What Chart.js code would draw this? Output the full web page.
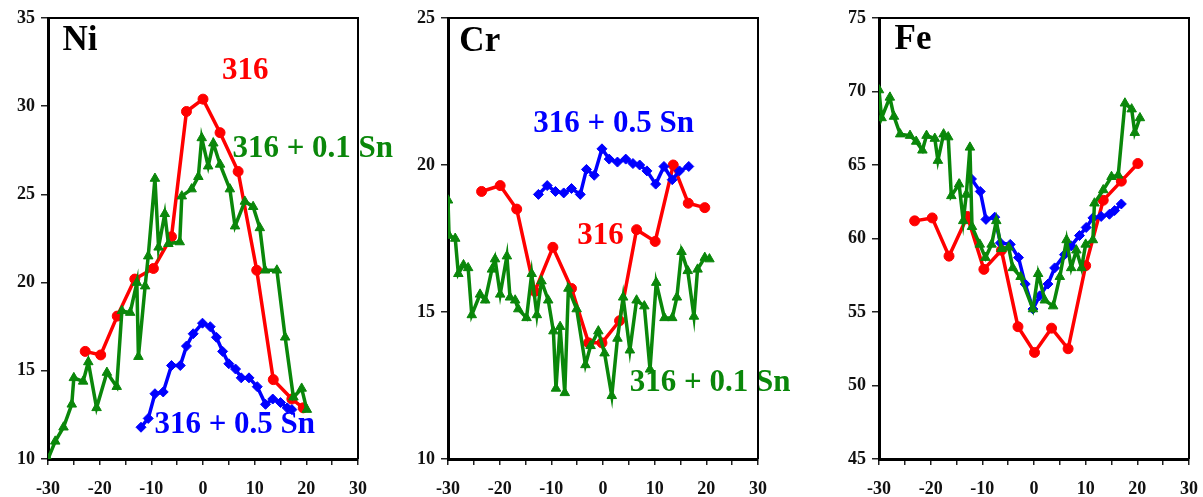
<!DOCTYPE html>
<html>
<head>
<meta charset="utf-8">
<script src="https://cdn.jsdelivr.net/npm/chart.js@4"></script>
<style>
  html, body { margin: 0; padding: 0; background: #fff; }
  #wrap { position: relative; width: 1203px; height: 497px; overflow: hidden; }
  .panel { position: absolute; top: 0; }
</style>
</head>
<body>
<div id="wrap">
  <canvas id="niChart" class="panel" width="400" height="497" style="left:0px"></canvas>
  <canvas id="crChart" class="panel" width="400" height="497" style="left:400px"></canvas>
  <canvas id="feChart" class="panel" width="400" height="497" style="left:831px"></canvas>
</div>
<script>
// shared x axis (distance)
const xTicks = [-30, -20, -10, 0, 10, 20, 30];

// Ni
const niTicks = [10, 15, 20, 25, 30, 35];
const niX316 = [-22.8, -19.8, -16.6, -13.2, -9.6, -6.1, -3.2, 0, 3.3, 6.8, 10.4, 13.6, 17.2, 19.4];
const niY316 = [16.1, 15.9, 18.1, 20.2, 20.8, 22.6, 29.7, 30.4, 28.5, 26.3, 20.7, 14.5, 13.4, 12.9];
const niX01 = [-30, -28.6, -27, -25.4, -25, -23.2, -22.2, -20.6, -18.6, -16.7, -15.7, -14.1, -12.8, -12.5, -11.2, -10.6, -9.3, -8.6, -7.4, -6.7, -4.5, -4.1, -2.2, -0.9, -0.25, 1.0, 2.0, 3.3, 5.2, 6.2, 8.1, 9.7, 11.0, 12.0, 14.3, 15.9, 17.5, 19.1, 20.1];
const niY01 = [10, 11, 11.8, 13.1, 14.6, 14.4, 15.5, 12.9, 14.9, 14.1, 18.4, 18.3, 20.0, 15.8, 19.8, 21.5, 25.9, 22.0, 23.9, 22.2, 22.3, 24.9, 25.3, 26.0, 28.2, 26.6, 27.9, 26.7, 25.3, 23.2, 24.6, 24.3, 23.1, 20.7, 20.7, 16.9, 13.5, 14.0, 12.8];
const niX05 = [-12, -10.6, -9.3, -7.7, -6.1, -4.4, -3.2, -1.9, -0.1, 1.4, 2.6, 3.8, 5.0, 6.3, 7.4, 8.9, 10.5, 12.1, 13.5, 15.0, 16.3, 17.2];
const niY05 = [11.8, 12.3, 13.7, 13.8, 15.3, 15.3, 16.4, 17.1, 17.7, 17.5, 16.9, 16.1, 15.4, 15.1, 14.6, 14.6, 14.1, 13.1, 13.4, 13.2, 12.9, 12.8];

// Cr
const crTicks = [10, 15, 20, 25];
const crX316 = [-23.5, -19.9, -16.7, -13.2, -9.7, -6.1, -2.8, -0.2, 3.2, 6.5, 10.1, 13.6, 16.5, 19.7];
const crY316 = [19.1, 19.3, 18.5, 15.7, 17.2, 15.8, 13.95, 13.95, 14.7, 17.8, 17.4, 20.0, 18.7, 18.55];
const crX01 = [-30, -29.8, -28.6, -28.0, -27.0, -26.1, -25.4, -23.8, -22.8, -21.5, -20.9, -19.9, -18.6, -18.0, -17.0, -16.4, -14.8, -13.8, -12.8, -11.9, -10.6, -9.6, -9.1, -8.3, -7.4, -6.7, -5.1, -3.4, -2.4, -0.9, 0.3, 1.7, 2.8, 3.9, 5.2, 6.5, 8.0, 9.1, 10.3, 11.9, 13.4, 14.3, 15.2, 16.4, 17.6, 18.3, 19.7, 20.6];
const crY01 = [18.8, 17.6, 17.5, 16.3, 16.6, 16.5, 14.9, 15.6, 15.4, 16.45, 16.8, 15.6, 16.9, 15.5, 15.4, 15.1, 14.8, 16.3, 14.9, 16.05, 15.4, 14.35, 12.4, 14.5, 12.25, 15.8, 15.1, 13.2, 13.85, 14.35, 13.6, 12.15, 14.1, 15.5, 13.7, 15.4, 15.2, 13.05, 16.0, 14.8, 14.8, 15.5, 17.05, 16.4, 14.85, 16.45, 16.85, 16.8];
const crX05 = [-12.5, -10.8, -9.2, -7.6, -6.1, -4.4, -3.2, -1.7, -0.2, 1.2, 2.8, 4.4, 5.8, 7.1, 8.5, 10.2, 11.8, 13.4, 14.8, 16.6];
const crY05 = [19.0, 19.3, 19.1, 19.05, 19.2, 19.0, 19.85, 19.65, 20.55, 20.2, 20.1, 20.2, 20.05, 20.0, 19.8, 19.35, 19.95, 19.5, 19.8, 19.95];

// Fe
const feTicks = [45, 50, 55, 60, 65, 70, 75];
const feX316 = [-23.1, -19.7, -16.45, -12.9, -9.7, -6.3, -3.1, 0.1, 3.4, 6.6, 10.0, 13.4, 16.9, 20.1];
const feY316 = [61.2, 61.4, 58.8, 61.5, 57.9, 59.2, 54.0, 52.25, 53.9, 52.5, 58.15, 62.6, 63.9, 65.1];
const feX01 = [-30, -29.5, -27.9, -27.1, -25.9, -24, -22.8, -21.6, -20.8, -19.2, -18.6, -17.5, -16.6, -16.0, -14.5, -13.7, -13.1, -12.4, -12.0, -10.5, -9.4, -8.2, -7.3, -6.3, -4.9, -4.1, -2.6, -0.2, 0.8, 2.1, 3.7, 5.0, 6.3, 7.2, 8.2, 9.2, 10.0, 11.4, 11.7, 13.4, 15.0, 16.3, 17.6, 18.9, 19.5, 20.5];
const feY01 = [70.1, 68.2, 69.6, 68.3, 67.1, 67.0, 66.6, 66.0, 67.0, 66.8, 65.3, 67.1, 66.9, 62.9, 63.7, 61.2, 63.0, 66.2, 60.8, 59.6, 58.7, 59.6, 61.2, 59.3, 59.4, 58.0, 57.4, 55.2, 57.6, 55.8, 55.4, 57.4, 59.9, 58.0, 59.2, 58.0, 59.6, 59.9, 62.4, 63.3, 64.2, 64.3, 69.2, 68.8, 67.2, 68.2];
const feX05 = [-12.1, -10.4, -9.3, -7.6, -6.5, -4.6, -3.0, -1.7, -0.2, 1.1, 2.7, 4.0, 5.9, 7.2, 8.8, 10.1, 11.4, 13.0, 14.6, 15.6, 16.9];
const feY05 = [64.05, 63.2, 61.3, 61.45, 59.7, 59.6, 58.7, 56.9, 55.2, 56.1, 56.9, 58.0, 58.9, 59.5, 60.2, 60.75, 61.4, 61.5, 61.65, 61.9, 62.35];

const RED = '#ff0000';
const GREEN = '#0a870a';
const BLUE = '#0000ff';
const SERIF = '"Liberation Serif", "Times New Roman", serif';

function points(xs, ys) {
    return xs.map((x, i) => ({ x: x, y: ys[i] }));
}

function series(xs, ys, color, style) {
    return {
        data: points(xs, ys),
        borderColor: color,
        backgroundColor: color,
        borderWidth: 3.5,
        pointStyle: style,
        pointRadius: style === 'triangle' ? 5.5 : 5,
        pointBorderWidth: 1,
        tension: 0
    };
}

// draws the panel name and the series labels at data positions
const panelText = {
    id: 'panelText',
    afterDatasetsDraw(chart, args, opts) {
        const ctx = chart.ctx;
        const xs = chart.scales.x, ys = chart.scales.y;
        ctx.save();
        ctx.textBaseline = 'middle';
        ctx.textAlign = 'left';
        (opts.items || []).forEach(t => {
            ctx.font = 'bold ' + t.size + 'px ' + SERIF;
            ctx.fillStyle = t.color;
            ctx.fillText(t.text, xs.getPixelForValue(t.x), ys.getPixelForValue(t.y));
        });
        ctx.restore();
    }
};

// top and right edges of the box
const frame = {
    id: 'frame',
    afterDraw(chart) {
        const a = chart.chartArea, ctx = chart.ctx;
        ctx.save();
        ctx.strokeStyle = '#000';
        ctx.lineWidth = 2;
        ctx.beginPath();
        ctx.moveTo(a.left, a.top);
        ctx.lineTo(a.right, a.top);
        ctx.lineTo(a.right, a.bottom);
        ctx.stroke();
        ctx.restore();
    }
};

function makePanel(canvasId, yTicks, datasets, items) {
    const tickFont = { family: SERIF, size: 18, weight: 'bold' };
    return new Chart(document.getElementById(canvasId), {
        type: 'line',
        data: { datasets: datasets },
        options: {
            responsive: false,
            animation: false,
            events: [],
            layout: { padding: { top: 18, right: 42, bottom: 0, left: 0 } },
            plugins: {
                legend: { display: false },
                tooltip: { enabled: false },
                panelText: { items: items }
            },
            scales: {
                x: {
                    type: 'linear',
                    min: xTicks[0],
                    max: xTicks[xTicks.length - 1],
                    afterFit: s => { s.height = 38; },
                    border: { display: true, color: '#000', width: 3 },
                    grid: { drawOnChartArea: false, drawTicks: true, tickLength: 6, color: '#222', lineWidth: 1.5 },
                    ticks: {
                        stepSize: 5,
                        autoSkip: false,
                        maxRotation: 0,
                        padding: 14,
                        color: '#111',
                        font: tickFont,
                        callback: v => xTicks.includes(v) ? String(v) : ''
                    }
                },
                y: {
                    type: 'linear',
                    min: yTicks[0],
                    max: yTicks[yTicks.length - 1],
                    afterFit: s => { s.width = 48; },
                    border: { display: true, color: '#000', width: 3 },
                    grid: { drawOnChartArea: false, drawTicks: true, tickLength: 7, color: '#222', lineWidth: 1.5 },
                    ticks: {
                        stepSize: yTicks[1] - yTicks[0],
                        padding: 6,
                        color: '#111',
                        font: tickFont
                    }
                }
            }
        },
        plugins: [panelText, frame]
    });
}

makePanel('niChart', niTicks, [
    series(niX01, niY01, GREEN, 'triangle'),
    series(niX05, niY05, BLUE, 'rectRot'),
    series(niX316, niY316, RED, 'circle')
], [
    { text: 'Ni', x: -27.2, y: 33.7, size: 35, color: '#000' },
    { text: '316', x: 3.7, y: 32.0, size: 31, color: RED },
    { text: '316 + 0.1 Sn', x: 5.7, y: 27.6, size: 31, color: GREEN },
    { text: '316 + 0.5 Sn', x: -9.4, y: 11.9, size: 31, color: BLUE }
]);

makePanel('crChart', crTicks, [
    series(crX01, crY01, GREEN, 'triangle'),
    series(crX05, crY05, BLUE, 'rectRot'),
    series(crX316, crY316, RED, 'circle')
], [
    { text: 'Cr', x: -27.8, y: 24.2, size: 35, color: '#000' },
    { text: '316 + 0.5 Sn', x: -13.5, y: 21.4, size: 31, color: BLUE },
    { text: '316', x: -5.0, y: 17.6, size: 31, color: RED },
    { text: '316 + 0.1 Sn', x: 5.2, y: 12.6, size: 31, color: GREEN }
]);

makePanel('feChart', feTicks, [
    series(feX01, feY01, GREEN, 'triangle'),
    series(feX05, feY05, BLUE, 'rectRot'),
    series(feX316, feY316, RED, 'circle')
], [
    { text: 'Fe', x: -27.0, y: 73.5, size: 35, color: '#000' }
]);
</script>
</body>
</html>
